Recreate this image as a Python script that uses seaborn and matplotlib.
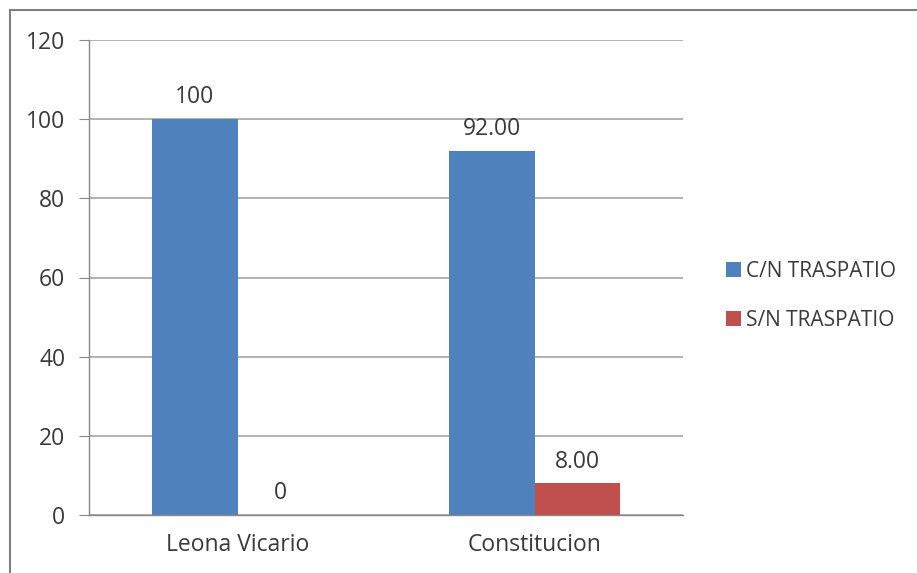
import matplotlib
matplotlib.use("Agg")
import matplotlib.pyplot as plt
import seaborn as sns
import pandas as pd
from matplotlib.patches import Rectangle

# data
colonias = ["Leona Vicario", "Constitucion"]
series = ["C/N TRASPATIO", "S/N TRASPATIO"]
con_traspatio = [100, 92.00]
sin_traspatio = [0, 8.00]
etiquetas_con = ["100", "92.00"]
etiquetas_sin = ["0", "8.00"]
colores = ["#4F81BD", "#C0504D"]

df = pd.DataFrame({
    "colonia": colonias * 2,
    "serie": [series[0]] * 2 + [series[1]] * 2,
    "valor": con_traspatio + sin_traspatio,
})

sns.set_style("white")
plt.rcParams["font.family"] = ["Open Sans", "DejaVu Sans"]
fs = 16.5
txt = "#3a3a3a"

fig = plt.figure(figsize=(9.17, 5.73), dpi=100)
ax = fig.add_axes([89 / 917, 1 - 515 / 573, (683 - 89) / 917, (515 - 40) / 573])

sns.barplot(data=df, x="colonia", y="valor", hue="serie", palette=colores,
            width=0.576, gap=0, saturation=1, ax=ax, legend=True, linewidth=0)

for cont, labs in zip(ax.containers, [etiquetas_con, etiquetas_sin]):
    ax.bar_label(cont, labels=labs, padding=7, fontsize=fs, color=txt)

ax.set_ylim(0, 120)
ax.set_yticks(range(0, 121, 20))
ax.set_xlim(-0.5, 1.5)
ax.set_xticks([-0.5, 0.5, 1.5], minor=True)
ax.tick_params(axis="x", which="major", length=0, pad=13, labelsize=fs, labelcolor=txt)
ax.tick_params(axis="x", which="minor", length=7, color="#888888", direction="out")
ax.tick_params(axis="y", length=7, color="#888888", direction="out", pad=10,
               labelsize=fs, labelcolor=txt, left=True)
ax.yaxis.grid(True, color="#a6a6a6", linewidth=1.2)
ax.set_axisbelow(True)
ax.set_xlabel("")
ax.set_ylabel("")
for s in ["top", "right"]:
    ax.spines[s].set_visible(False)
for s in ["left", "bottom"]:
    ax.spines[s].set_color("#888888")
    ax.spines[s].set_linewidth(1.0)

handles, labels = ax.get_legend_handles_labels()
ax.get_legend().remove()
fig.legend(handles, labels, loc="center left", bbox_to_anchor=(707 / 917, 1 - 296 / 573),
           frameon=False, fontsize=15, handlelength=0.75, handleheight=0.75,
           handletextpad=0.2, labelspacing=1.35, labelcolor=txt)

# outer chart border (cut off on the right and bottom in the reference)
fig.patches.append(Rectangle((10 / 917, -0.05), 1.0, 1 - 10 / 573 + 0.05,
                             transform=fig.transFigure, fill=False,
                             edgecolor="#7f7f7f", linewidth=1.5, clip_on=False))

fig.savefig("out.png", dpi=100)
